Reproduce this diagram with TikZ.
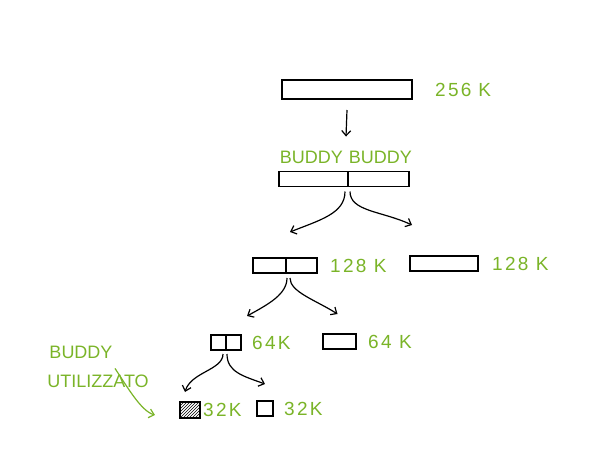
\documentclass[tikz,border=0pt]{standalone}
\usepackage{fontspec}
\setmainfont{Liberation Sans}
\newfontfamily\numfont[LetterSpace=12]{Liberation Sans}
\usetikzlibrary{positioning}
\usetikzlibrary{arrows.meta,patterns}
\definecolor{sketchgreen}{RGB}{122,180,40}

\begin{document}
\begin{tikzpicture}[
            x = 1pt, y = -1pt,
            block/.style = {
                draw,
                line width = 1.5pt,
                minimum width = #1,
                minimum height = 15pt,
                inner sep = 0pt,
                outer sep = 0pt
            },
            block/.default = 30pt,
            size/.style = {
                text = sketchgreen,
                font = \numfont\fontsize{19}{21}\selectfont,
                inner sep = 0pt
            },
            word/.style = {
                size,
                font = \fontsize{18}{20}\selectfont
            },
            split/.style = {
                line width = 1.2pt,
                -{Straight Barb[length=5pt,width=9pt]}
            },
            node distance = {12pt}
            ]
            \useasboundingbox (0,0) rectangle (606,469);

            % 256 K
            \node[block=130pt, minimum height=19pt] (full) at (347,89.5) {};
            \node[size, right=23pt of full] (l256) {256\hspace{7pt}K};
            \node[word] (bb) at (346,157) {BUDDY\hspace{6pt}BUDDY};
            \node[block=69pt] (b1) at (313.5,179) {};
            \node[block=61pt, right=0pt of b1] (b2) {};
            \draw[split] ([yshift=-11pt]full.south) -- ([yshift=14pt]bb.north);

            % 128 K
            \node[block=33pt] (h1) at (269.5,265.5) {};
            \node[block=31pt, right=0pt of h1] (h2) {};
            \node[size, right=13pt of h2] (l128a) {128 K};
            \node[block=68pt] (r128) at (444,263.5) {};
            \node[size, right=14pt of r128] (l128b) {128 K};
            \draw[split] ([xshift=-3pt,yshift=-5pt]b1.south east) .. controls +(0,22) and +(30,-12) .. ([xshift=4pt,yshift=26pt]h1.north east);
            \draw[split] ([xshift=2pt,yshift=-5pt]b1.south east) .. controls +(0,20) and +(-30,-14) .. ([xshift=2pt,yshift=31pt]r128.north west);

            % 64 K
            \node[block=15pt] (q1) at (218.5,342.5) {};
            \node[block=15pt, right=0pt of q1] (q2) {};
            \node[size, right=11pt of q2] (l64a) {64K};
            \node[block=33pt] (r64) at (339.5,341.5) {};
            \node[size, right=12pt of r64] (l64b) {64 K};
            \draw[split] ([xshift=1pt,yshift=-5pt]h1.south east) .. controls +(0,16) and +(22,-12) .. ([xshift=6pt,yshift=19pt]q2.north east);
            \draw[split] ([xshift=4pt,yshift=-5pt]h1.south east) .. controls +(0,14) and +(-22,-14) .. ([xshift=-2pt,yshift=20pt]r64.north);

            % 32 K
            \node[block=20pt, minimum height=16pt, pattern=north east lines] (e1) at (190,410) {};
            \node[size, right=3pt of e1] (l32a) {32K};
            \node[block=16pt] (e2) at (265,408.5) {};
            \node[size, right=11pt of e2] (l32b) {32K};
            \draw[split] ([xshift=-3pt,yshift=-4pt]q1.south east) .. controls +(0,16) and +(6,-20) .. ([xshift=-5pt,yshift=10pt]e1.north);
            \draw[split] ([xshift=1pt,yshift=-4pt]q1.south east) .. controls +(0,18) and +(-22,-8) .. ([yshift=17pt]e2.north);

            % buddy utilizzato
            \node[word] (used) at (81,352) {BUDDY};
            \node[word] (util) at (98,381) {UTILIZZATO};
            \draw[split, draw=sketchgreen] ([xshift=17pt,yshift=6pt]util.north) .. controls +(12,18) and +(-14,-4) .. ([xshift=-25pt,yshift=-5pt]e1.west);
        \end{tikzpicture}
\end{document}
